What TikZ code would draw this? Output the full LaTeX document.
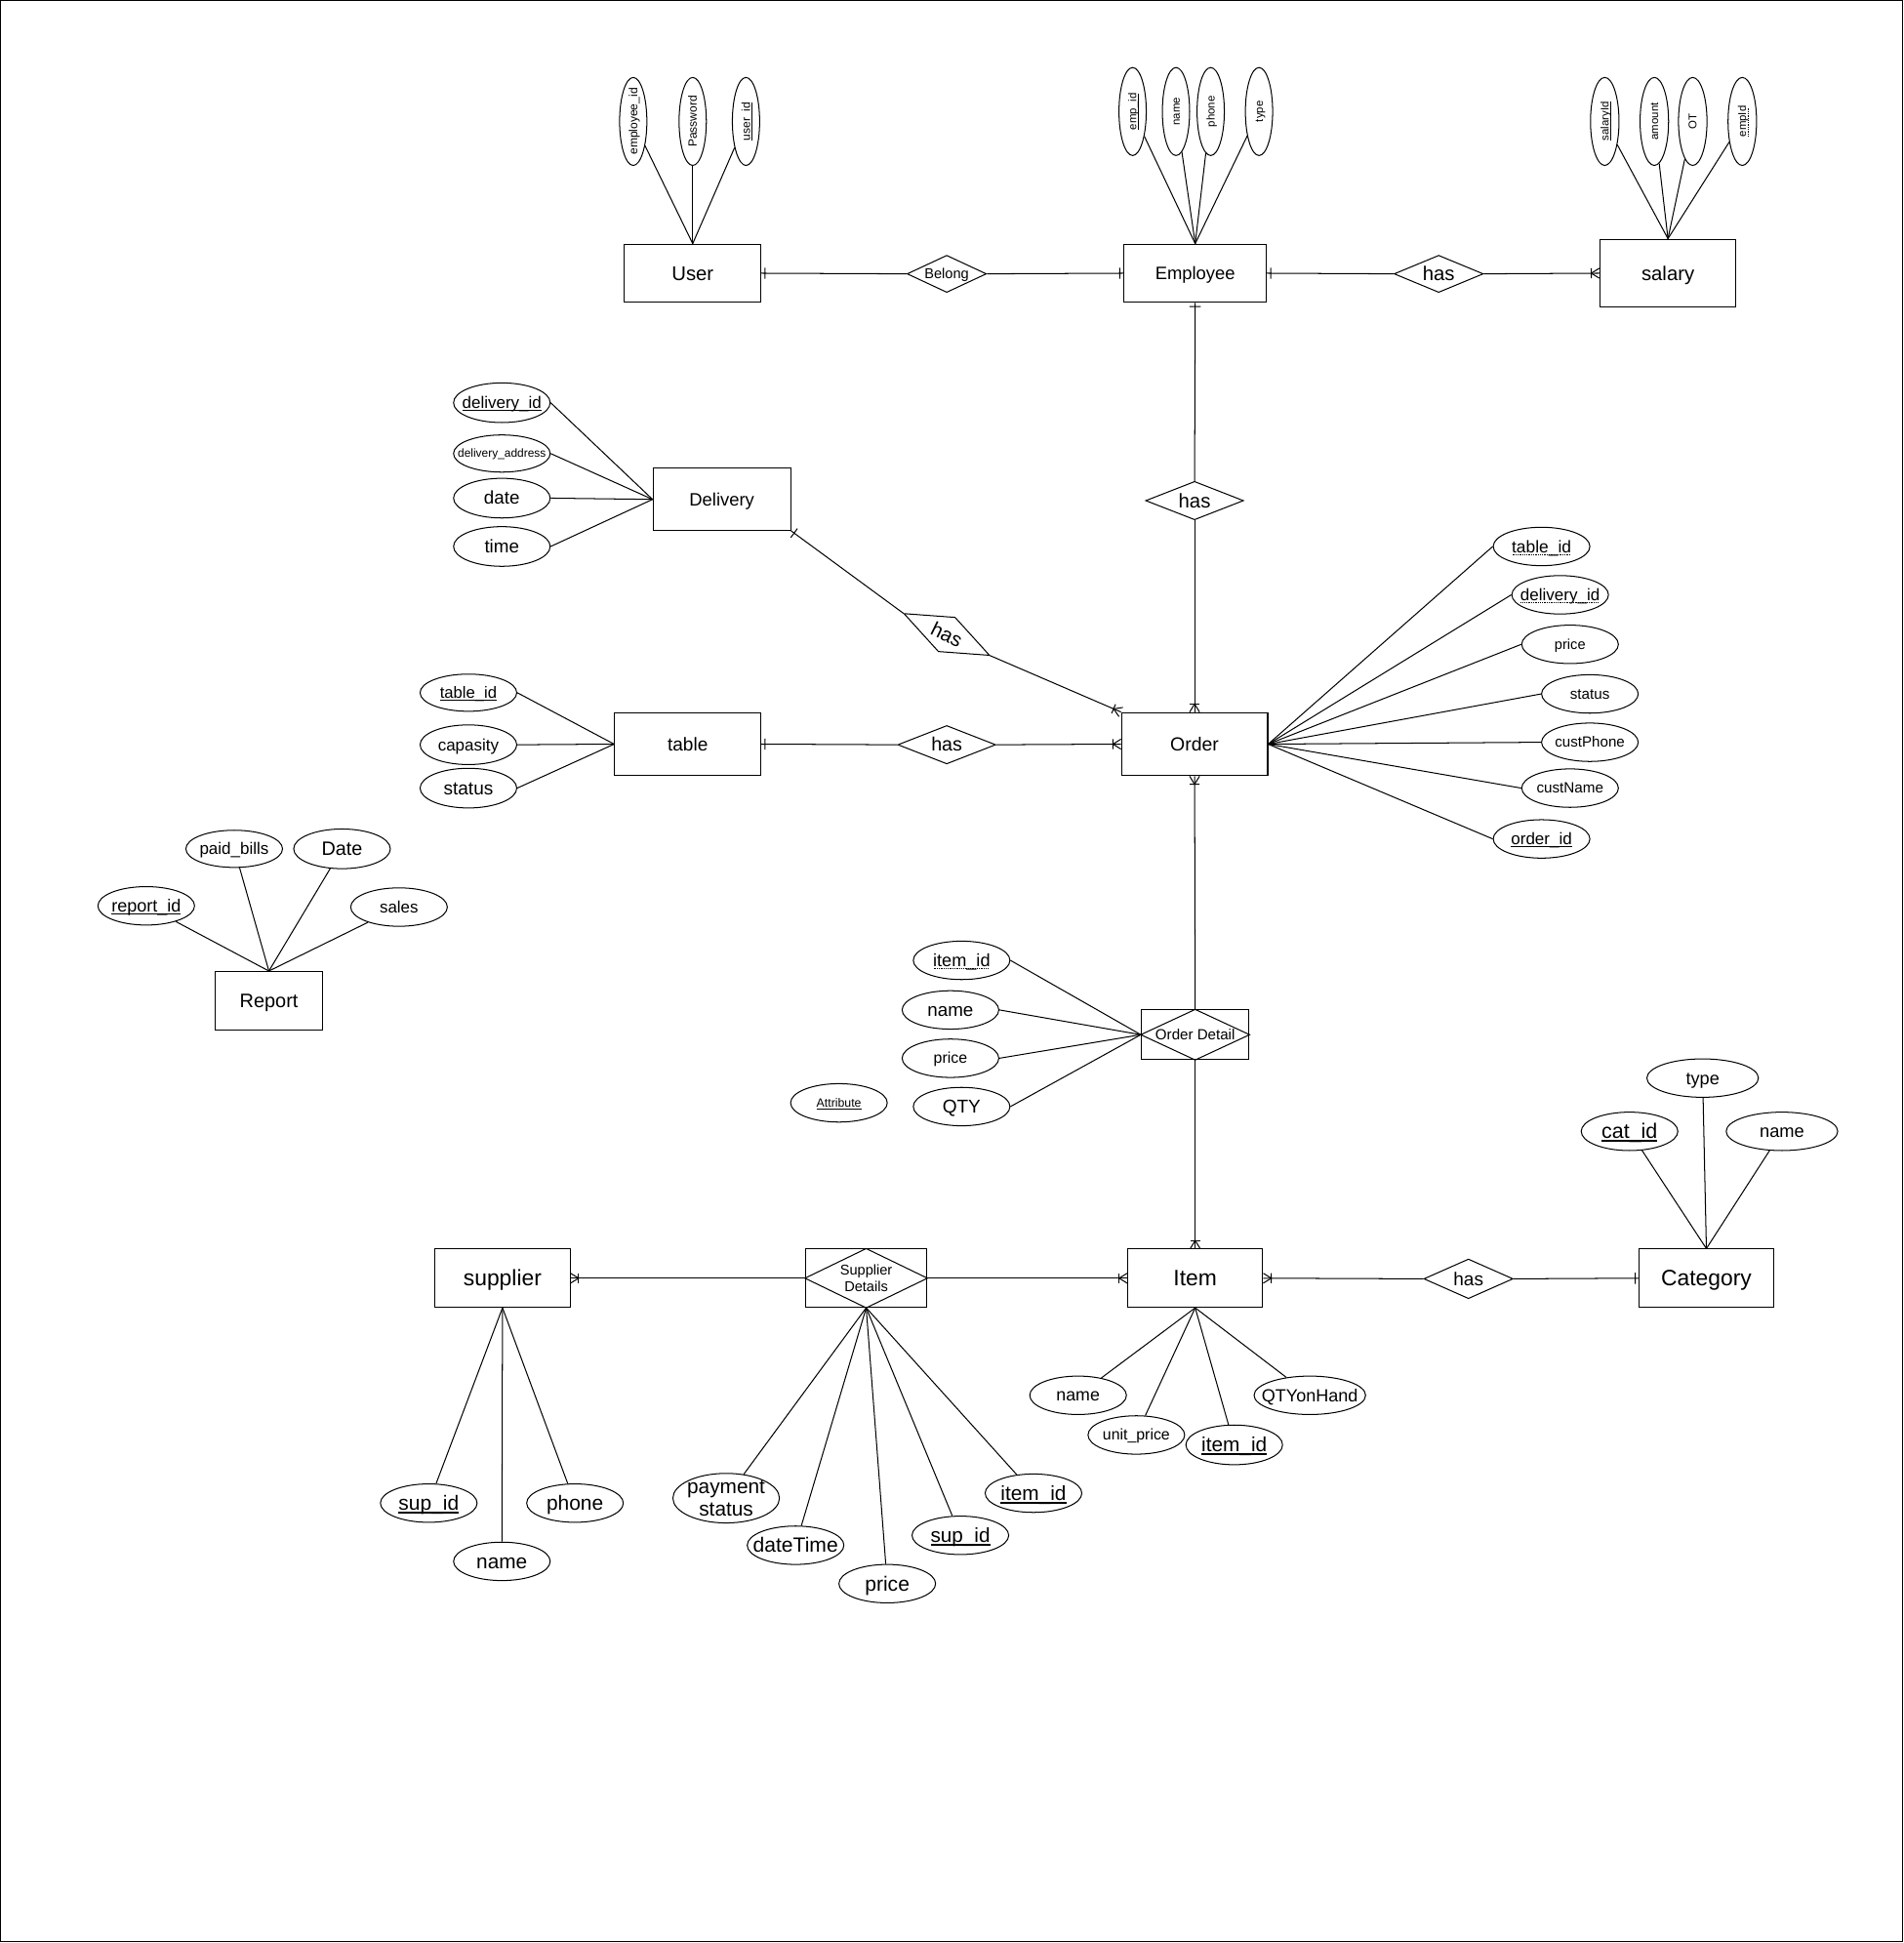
\documentclass[tikz,border=0pt]{standalone}
\usepackage{fontspec}
\setmainfont{Liberation Sans}
\usetikzlibrary{shapes.geometric,decorations.markings}
\newcommand\fs[1]{\fontsize{#1}{#1}\selectfont}
\newcommand\mk[1]{\makebox[0pt]{#1}}
\newcommand\sul[1]{\setbox0\hbox{#1}\rlap{\copy0}\raisebox{-2pt}{\rule{\wd0}{0.7pt}}}
\newcommand\tul[1]{\setbox0\hbox{#1}\rlap{\copy0}\raisebox{-2.6pt}{\rule{\wd0}{1.5pt}}}
\newcommand\dul[1]{\setbox0\hbox{#1}\rlap{\copy0}\raisebox{-2pt}{\hbox to \wd0{\leaders\hbox to 1.4pt{\hss\rule{0.7pt}{0.7pt}\hss}\hfill}}}
\begin{document}
\begin{tikzpicture}[x=1pt,y=-1pt,line width=0.8pt,
  txt/.style={execute at begin node={\rule[-0.212em]{0pt}{1.117em}}},
  ent/.style={draw,rectangle,inner sep=0pt,line width=0.8pt,txt},
  assoc/.style={draw,rectangle,inner sep=0pt,line width=0.8pt},
  attr/.style={draw,ellipse,inner sep=0pt,minimum width=78pt,minimum height=31pt,line width=0.8pt,txt},
  vattr/.style={draw,ellipse,inner sep=0pt,rotate=90,minimum width=71pt,minimum height=22pt,line width=0.8pt,font=\fs{9.5},txt},
  rel/.style={draw,diamond,inner sep=0pt,line width=0.8pt,txt},
  one start/.style={postaction={decorate,decoration={markings,mark=at position 0 with {\draw[line width=0.8pt] (3pt,-4.5pt) -- (3pt,4.5pt);}}}},
  one end/.style={postaction={decorate,decoration={markings,mark=at position 0.99999 with {\draw[line width=0.8pt] (-3pt,-4.5pt) -- (-3pt,4.5pt);}}}},
  many start/.style={postaction={decorate,decoration={markings,mark=at position 0 with {\draw[line width=0.8pt] (6.5pt,-4pt) -- (6.5pt,4pt); \draw[line width=0.8pt] (0pt,-4pt) -- (6.5pt,0pt) -- (0pt,4pt);}}}},
  many end/.style={postaction={decorate,decoration={markings,mark=at position 0.99999 with {\draw[line width=0.8pt] (-6.5pt,-4pt) -- (-6.5pt,4pt); \draw[line width=0.8pt] (0pt,-4pt) -- (-6.5pt,0pt) -- (0pt,4pt);}}}},
]
\useasboundingbox (0,0) rectangle (1536,1568);
\draw[line width=0.8pt] (0.6,0.6) rectangle (1535.2,1566.5);

% ---------- top row ----------
\node[ent,minimum width=110pt,minimum height=47pt,font=\fs{16}] (user) at (559,220.5) {User};
\node[rel,minimum width=64pt,minimum height=30pt,font=\fs{11.5}] (belong) at (764,221) {\mk{Belong}};
\node[ent,minimum width=115pt,minimum height=47pt,font=\fs{14.5}] (emp) at (964.5,220.5) {Employee};
\node[rel,minimum width=72pt,minimum height=30pt,font=\fs{16}] (hasS) at (1161,221) {\mk{has}};
\node[ent,minimum width=110pt,minimum height=55pt,font=\fs{16}] (sal) at (1346,220.5) {salary};

\node[vattr] (ua1) at (511,98) {\mk{employee\_id}};
\node[vattr] (ua2) at (559,98) {\mk{Password}};
\node[vattr] (ua3) at (602,98) {\mk{\sul{user\_id}}};

\node[vattr,font=\fs{9}] (ea1) at (914,90) {\mk{\sul{emp\_id}}};
\node[vattr,font=\fs{9}] (ea2) at (949,90) {\mk{name}};
\node[vattr,font=\fs{9}] (ea3) at (977,90) {\mk{phone}};
\node[vattr,font=\fs{9}] (ea4) at (1016,90) {\mk{type}};

\node[vattr,minimum height=23pt,font=\fs{9}] (sl1) at (1295,98) {\mk{\sul{salaryId}}};
\node[vattr,minimum height=23pt,font=\fs{9}] (sl2) at (1335,98) {\mk{amount}};
\node[vattr,minimum height=23pt,font=\fs{9}] (sl3) at (1366,98) {\mk{OT}};
\node[vattr,minimum height=23pt,font=\fs{9}] (sl4) at (1406,98) {\mk{\dul{empId}}};

\foreach \a in {ua1,ua2,ua3} \draw (\a) -- (user.north);
\foreach \a in {ea1,ea2,ea3,ea4} \draw (\a) -- (emp.north);
\foreach \a in {sl1,sl2,sl3,sl4} \draw (\a) -- (sal.north);

\draw[one start] (user.east) -- (belong.west);
\draw[one end] (belong.east) -- (emp.west);
\draw[one start] (emp.east) -- (hasS.west);
\draw[many end] (hasS.east) -- (sal.west);

% ---------- Delivery ----------
\node[ent,minimum width=111pt,minimum height=50pt,font=\fs{14.5}] (deliv) at (582.5,403) {Delivery};
\node[attr,minimum height=32pt,font=\fs{13.4}] (da1) at (405,325) {\mk{\sul{delivery\_id}}};
\node[attr,minimum height=30pt,font=\fs{9.4}] (da2) at (405,366) {\mk{delivery\_address}};
\node[attr,minimum height=32pt,font=\fs{14.8}] (da3) at (405,402) {\mk{date}};
\node[attr,minimum height=32pt,font=\fs{14.8}] (da4) at (405,441) {\mk{time}};
\foreach \a in {da1,da2,da3,da4} \draw (\a.east) -- (deliv.west);

% ---------- Employee - Order ----------
\node[rel,minimum width=79pt,minimum height=31pt,font=\fs{16}] (hasE) at (964,404) {\mk{has}};
\node[ent,minimum width=118pt,minimum height=51pt,font=\fs{15.3}] (order) at (964,600.5) {Order};
\draw[one start] (emp.south) -- (hasE.north);
\draw[many end] (hasE.south) -- (order.north);

% ---------- Delivery - Order ----------
\node[rel,rotate=-26,minimum width=77pt,minimum height=31pt,font=\fs{16}] (hasD) at (764,512) {\mk{has}};
\draw[one start] (deliv.south east) -- (hasD.west);
\draw[many end] (hasD.east) -- (order.north west);

% ---------- table ----------
\node[ent,minimum width=118pt,minimum height=51pt,font=\fs{15}] (tbl) at (555,600.5) {table};
\node[attr,minimum height=30pt,font=\fs{13.1}] (ta1) at (378,559) {\mk{\sul{table\_id}}};
\node[attr,minimum height=32pt,font=\fs{13.4}] (ta2) at (378,601) {\mk{capasity}};
\node[attr,minimum height=32pt,font=\fs{15}] (ta3) at (378,636) {\mk{status}};
\foreach \a in {ta1,ta2,ta3} \draw (\a.east) -- (tbl.west);
\node[rel,minimum width=79pt,minimum height=31pt,font=\fs{15.5}] (hasT) at (764,601) {\mk{has}};
\draw[one start] (tbl.east) -- (hasT.west);
\draw[many end] (hasT.east) -- (order.west);

% ---------- Order attributes ----------
\node[attr,font=\fs{13.7}] (oa1) at (1244,441) {\mk{\dul{table\_id}}};
\node[attr,font=\fs{13.4}] (oa2) at (1259,480) {\mk{\dul{delivery\_id}}};
\node[attr,font=\fs{11.5}] (oa3) at (1267,520) {\mk{price}};
\node[attr,font=\fs{12}] (oa4) at (1283,560) {\mk{status}};
\node[attr,font=\fs{11.9}] (oa5) at (1283,599) {\mk{custPhone}};
\node[attr,font=\fs{12}] (oa6) at (1267,636) {\mk{custName}};
\node[attr,font=\fs{13.4}] (oa7) at (1244,677) {\mk{\sul{order\_id}}};
\foreach \a in {oa1,oa2,oa3,oa4,oa5,oa6,oa7} \draw (order.east) -- (\a.west);

% ---------- Report ----------
\node[ent,minimum width=86pt,minimum height=47pt,font=\fs{15.7}] (report) at (217,807.5) {Report};
\node[attr,minimum height=30pt,font=\fs{13.4}] (rp1) at (189,685) {\mk{paid\_bills}};
\node[attr,minimum height=32pt,font=\fs{15.6}] (rp2) at (276,685) {\mk{Date}};
\node[attr,font=\fs{14.2}] (rp3) at (118,731) {\mk{\sul{report\_id}}};
\node[attr,font=\fs{13.3}] (rp4) at (322,732) {\mk{sales}};
\foreach \a in {rp1,rp2,rp3,rp4} \draw (\a) -- (report.north);

% ---------- Order Detail ----------
\node[ent,minimum width=87pt,minimum height=40pt,font=\fs{11.9}] (od) at (964.5,835) {\mk{Order Detail}};
\draw (od.north) -- (od.east) -- (od.south) -- (od.west) -- cycle;
\node[attr,font=\fs{14.3}] (oda1) at (776,775) {\mk{\dul{item\_id}}};
\node[attr,font=\fs{14.8}] (oda2) at (767,815) {\mk{name}};
\node[attr,font=\fs{12.5}] (oda3) at (767,854) {\mk{price}};
\node[attr,font=\fs{15}] (oda4) at (776,893) {\mk{QTY}};
\foreach \a in {oda1,oda2,oda3,oda4} \draw (\a.east) -- (od.west);
\node[attr,font=\fs{9.7}] (attrx) at (677,890) {\mk{\sul{Attribute}}};

% ---------- Item row ----------
\node[ent,minimum width=109pt,minimum height=47pt,font=\fs{18}] (item) at (964.5,1031.5) {Item};
\node[ent,minimum width=109pt,minimum height=47pt,font=\fs{18}] (sup) at (405.5,1031.5) {supplier};
\node[assoc,minimum width=98pt,minimum height=47pt,font=\fontsize{11.5}{14}\selectfont,align=center] (sd) at (699,1031.5) {Supplier\\Details};
\draw (sd.north) -- (sd.east) -- (sd.south) -- (sd.west) -- cycle;
\node[rel,minimum width=72pt,minimum height=32pt,font=\fs{15}] (hasC) at (1185,1032) {\mk{has}};
\node[ent,minimum width=108pt,minimum height=47pt,font=\fs{18}] (cat) at (1377,1031.5) {Category};

\draw[many start] (order.south) -- (od.north);
\draw[many end] (od.south) -- (item.north);
\draw[many end] (sd.west) -- (sup.east);
\draw[many end] (sd.east) -- (item.west);
\draw[many start] (item.east) -- (hasC.west);
\draw[one end] (hasC.east) -- (cat.west);

% supplier attributes
\node[attr,font=\fs{16.5}] (su1) at (346,1213) {\mk{\tul{sup\_id}}};
\node[attr,font=\fs{16.4}] (su2) at (405,1260) {\mk{name}};
\node[attr,font=\fs{16.5}] (su3) at (464,1213) {\mk{phone}};
\foreach \a in {su1,su2,su3} \draw (sup.south) -- (\a);

% supplier details attributes
\node[draw,ellipse,inner sep=0pt,line width=0.8pt,minimum width=86pt,minimum height=40pt] (pay) at (586,1209) {};
\node[font=\fontsize{16.4}{18.5}\selectfont,align=center,inner sep=0pt] (paytxt) at (586,1209) {payment\\status};
\node[attr,font=\fs{16.6}] (sdd2) at (642,1247) {\mk{dateTime}};
\node[attr,font=\fs{16.6}] (sdd3) at (716,1278) {\mk{price}};
\node[attr,font=\fs{16.3}] (sdd4) at (775,1239) {\mk{\tul{sup\_id}}};
\node[attr,font=\fs{16.4}] (sdd5) at (834,1205) {\mk{\tul{item\_id}}};
\foreach \a in {pay,sdd2,sdd3,sdd4,sdd5} \draw (sd.south) -- (\a);

% item attributes
\node[attr,font=\fs{14}] (it1) at (870,1126) {\mk{name}};
\node[attr,font=\fs{12.5}] (it2) at (917,1158) {\mk{unit\_price}};
\node[attr,minimum height=32pt,font=\fs{16.4}] (it3) at (996,1166) {\mk{\tul{item\_id}}};
\node[attr,minimum width=90pt,font=\fs{14.2}] (it4) at (1057,1126) {\mk{QTYonHand}};
\foreach \a in {it1,it2,it3,it4} \draw (item.south) -- (\a);

% category attributes
\node[attr,minimum width=90pt,font=\fs{14.3}] (ca1) at (1374,870) {\mk{type}};
\node[attr,font=\fs{16.9}] (ca2) at (1315,913) {\mk{\tul{cat\_id}}};
\node[attr,minimum width=90pt,font=\fs{14.4}] (ca3) at (1438,913) {\mk{name}};
\foreach \a in {ca1,ca2,ca3} \draw (\a) -- (cat.north);
\end{tikzpicture}
\end{document}
